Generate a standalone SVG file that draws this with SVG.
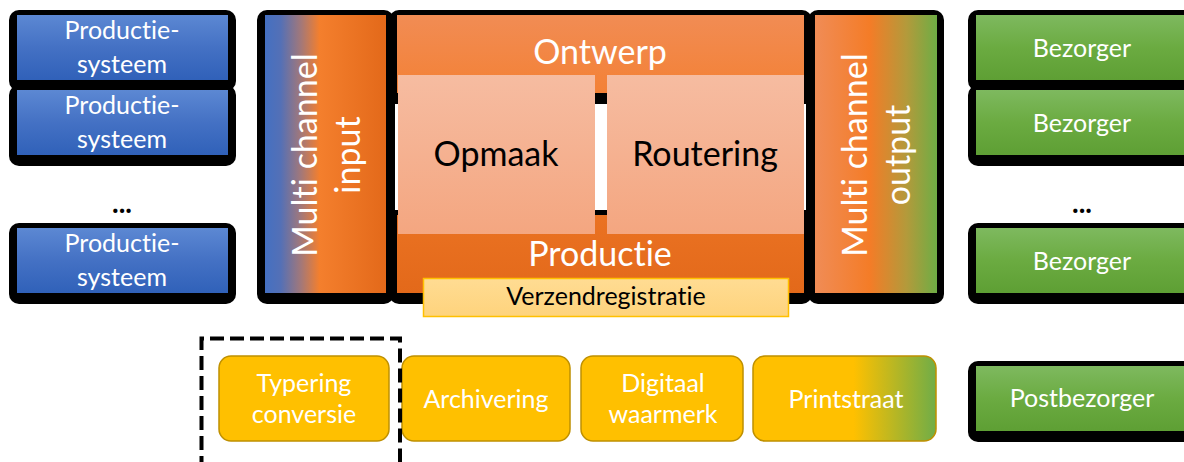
<svg xmlns="http://www.w3.org/2000/svg" width="1184" height="462" viewBox="0 0 1184 462">
  <defs>
    <linearGradient id="gBlue" x1="0" y1="0" x2="0" y2="1">
      <stop offset="0" stop-color="#5c88d3"/>
      <stop offset="0.5" stop-color="#4471c4"/>
      <stop offset="1" stop-color="#3061b9"/>
    </linearGradient>
    <linearGradient id="gGreen" x1="0" y1="0" x2="0" y2="1">
      <stop offset="0" stop-color="#7eb95f"/>
      <stop offset="0.5" stop-color="#6bab41"/>
      <stop offset="1" stop-color="#5e9f34"/>
    </linearGradient>
    <linearGradient id="gOrange" x1="0" y1="0" x2="0" y2="1">
      <stop offset="0" stop-color="#f18c54"/>
      <stop offset="0.35" stop-color="#f47e2e"/>
      <stop offset="1" stop-color="#e3691a"/>
    </linearGradient>
    <linearGradient id="gSalmon" x1="0" y1="0" x2="0" y2="1">
      <stop offset="0" stop-color="#f6bca1"/>
      <stop offset="1" stop-color="#f4a680"/>
    </linearGradient>
    <linearGradient id="gInput" x1="0" y1="0" x2="1" y2="0">
      <stop offset="0" stop-color="#4470c2"/>
      <stop offset="0.13" stop-color="#5470b6"/>
      <stop offset="0.3" stop-color="#a47878"/>
      <stop offset="0.45" stop-color="#f47f2d"/>
      <stop offset="1" stop-color="#e3691a"/>
    </linearGradient>
    <linearGradient id="gOutput" x1="0" y1="0" x2="1" y2="0">
      <stop offset="0" stop-color="#f08c56"/>
      <stop offset="0.45" stop-color="#f47c27"/>
      <stop offset="0.75" stop-color="#b39a3b"/>
      <stop offset="1" stop-color="#6ead45"/>
    </linearGradient>
    <linearGradient id="gVerz" x1="0" y1="0" x2="0" y2="1">
      <stop offset="0" stop-color="#ffdc93"/>
      <stop offset="1" stop-color="#fed37c"/>
    </linearGradient>
    <linearGradient id="gPrint" x1="0" y1="0" x2="1" y2="0">
      <stop offset="0" stop-color="#ffc000"/>
      <stop offset="0.55" stop-color="#ffc000"/>
      <stop offset="1" stop-color="#70ad47"/>
    </linearGradient>
  </defs>
  <style>
    text { font-family: Lato, "Open Sans", "Liberation Sans", sans-serif; font-variant-ligatures: none; font-feature-settings: "liga" 0, "dlig" 0, "clig" 0; }
    .frame { fill: #000000; }
    .lbl { fill: #ffffff; font-size: 25px; text-anchor: middle; }
    .big { fill: #ffffff; font-size: 34px; text-anchor: middle; }
    .dark { fill: #000000; font-size: 34px; text-anchor: middle; }
    .dots { fill: #000000; font-size: 28px; font-weight: bold; text-anchor: middle; }
    .tool { fill: #ffc000; stroke: #bf9000; stroke-width: 1.5; }
    .small { fill: #ffffff; font-size: 25px; text-anchor: middle; }
  </style>

  <!-- production systems (left column) -->
  <g id="prod1">
    <rect class="frame" x="9" y="10" width="227" height="81" rx="10"/>
    <rect x="17" y="15" width="211" height="65" fill="url(#gBlue)"/>
    <text class="lbl" x="122" y="39">Productie-</text>
    <text class="lbl" x="122" y="73">systeem</text>
  </g>
  <g id="prod2">
    <rect class="frame" x="9" y="85" width="227" height="81" rx="10"/>
    <rect x="17" y="90" width="211" height="65" fill="url(#gBlue)"/>
    <text class="lbl" x="122" y="114">Productie-</text>
    <text class="lbl" x="122" y="148">systeem</text>
  </g>
  <text id="prodMore" class="dots" x="122" y="213">...</text>
  <g id="prod3">
    <rect class="frame" x="9" y="223" width="227" height="81" rx="10"/>
    <rect x="17" y="228" width="211" height="65" fill="url(#gBlue)"/>
    <text class="lbl" x="122" y="252">Productie-</text>
    <text class="lbl" x="122" y="286">systeem</text>
  </g>

  <!-- multi channel input -->
  <g id="mcInput">
    <rect class="frame" x="257" y="10" width="137" height="294" rx="10"/>
    <rect x="265" y="15" width="121" height="278" fill="url(#gInput)"/>
    <g transform="translate(317,155) rotate(-90)">
      <text class="big" x="0" y="0">Multi channel</text>
      <text class="big" x="0" y="43">input</text>
    </g>
  </g>

  <!-- central block: design / production -->
  <g id="core">
    <rect class="frame" x="389" y="10" width="423" height="294" rx="10"/>
    <rect x="397" y="15" width="407" height="278" fill="url(#gOrange)"/>
    <rect x="395" y="93" width="411" height="122" fill="#000000"/>
    <rect x="395" y="104" width="411" height="106" fill="#ffffff"/>
    <text class="big" x="600" y="64">Ontwerp</text>
    <text class="big" x="600" y="266">Productie</text>
  </g>
  <g id="opmaak">
    <rect x="398" y="75" width="197" height="159" fill="url(#gSalmon)"/>
    <text class="dark" x="496" y="166">Opmaak</text>
  </g>
  <g id="routering">
    <rect x="607" y="75" width="197" height="159" fill="url(#gSalmon)"/>
    <text class="dark" x="705" y="166">Routering</text>
  </g>
  <g id="verzendregistratie">
    <rect x="423.5" y="278.5" width="365" height="38" fill="url(#gVerz)" stroke="#ffc000" stroke-width="1.5"/>
    <text x="606" y="305" fill="#000000" font-size="25" text-anchor="middle">Verzendregistratie</text>
  </g>

  <!-- multi channel output -->
  <g id="mcOutput">
    <rect class="frame" x="808" y="10" width="136" height="294" rx="10"/>
    <rect x="815" y="15" width="122" height="278" fill="url(#gOutput)"/>
    <g transform="translate(867,155) rotate(-90)">
      <text class="big" x="0" y="0">Multi channel</text>
      <text class="big" x="0" y="43">output</text>
    </g>
  </g>

  <!-- delivery channels (right column) -->
  <g id="bezorger1">
    <rect class="frame" x="968" y="10" width="228" height="81" rx="10"/>
    <rect x="976" y="15" width="212" height="65" fill="url(#gGreen)"/>
    <text class="lbl" x="1082" y="57">Bezorger</text>
  </g>
  <g id="bezorger2">
    <rect class="frame" x="968" y="85" width="228" height="81" rx="10"/>
    <rect x="976" y="90" width="212" height="65" fill="url(#gGreen)"/>
    <text class="lbl" x="1082" y="132">Bezorger</text>
  </g>
  <text id="bezorgerMore" class="dots" x="1082" y="213">...</text>
  <g id="bezorger3">
    <rect class="frame" x="968" y="223" width="228" height="81" rx="10"/>
    <rect x="976" y="228" width="212" height="65" fill="url(#gGreen)"/>
    <text class="lbl" x="1082" y="270">Bezorger</text>
  </g>
  <g id="postbezorger">
    <rect class="frame" x="968" y="361" width="228" height="81" rx="10"/>
    <rect x="976" y="366" width="212" height="65" fill="url(#gGreen)"/>
    <text class="lbl" x="1082" y="407">Postbezorger</text>
  </g>

  <!-- supporting services -->
  <g id="typering">
    <rect class="tool" x="219" y="356" width="170" height="85" rx="12"/>
    <text class="small" x="304" y="392">Typering</text>
    <text class="small" x="304" y="423">conversie</text>
  </g>
  <g id="archivering">
    <rect class="tool" x="402" y="356" width="168" height="85" rx="12"/>
    <text class="small" x="486" y="408">Archivering</text>
  </g>
  <g id="waarmerk">
    <rect class="tool" x="581" y="356" width="162" height="85" rx="12"/>
    <text class="small" x="663" y="392">Digitaal</text>
    <text class="small" x="663" y="423">waarmerk</text>
  </g>
  <g id="printstraat">
    <rect x="753" y="356" width="183" height="85" rx="12" fill="url(#gPrint)" stroke="#bf9000" stroke-width="1.5"/>
    <text class="small" x="846" y="408">Printstraat</text>
  </g>

  <!-- dashed selection boundary -->
  <g id="connectors">
    <path d="M201.5,470 V338.5 H400 V470" fill="none" stroke="#000000" stroke-width="4" stroke-dasharray="14 6"/>
  </g>
</svg>
